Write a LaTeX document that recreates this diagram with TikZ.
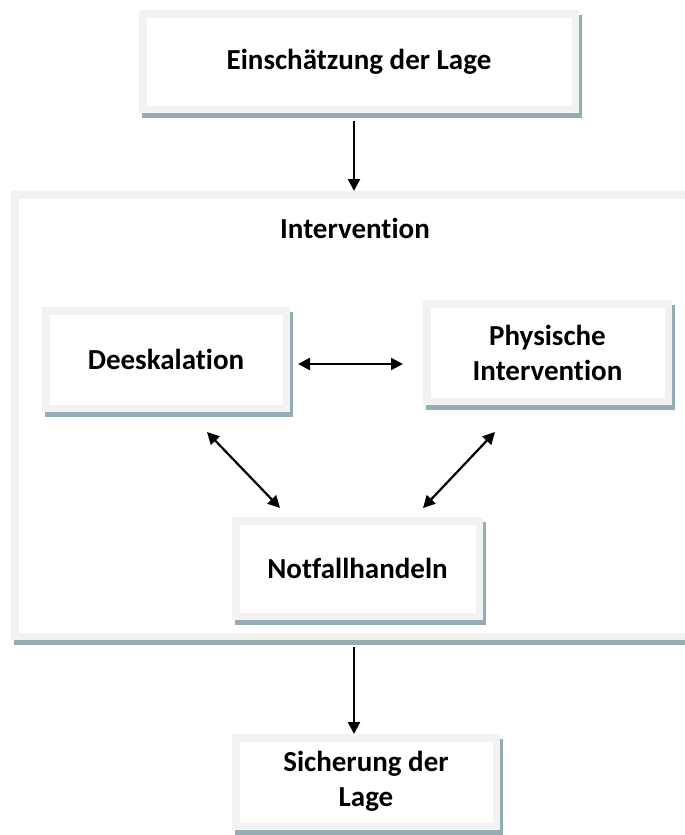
\documentclass[tikz,border=0pt]{standalone}
\usepackage{fontspec}
\setmainfont[Ligatures=NoCommon]{Carlito}
\usetikzlibrary{arrows.meta,shadows}
\definecolor{rimgray}{RGB}{242,242,242}
\definecolor{shadowc}{RGB}{148,173,178}
\tikzset{
  txt/.style={font=\bfseries\fontsize{29}{35}\selectfont, align=center},
  card/.style={txt, draw=rimgray, line width=7.5pt, fill=white, inner sep=0pt, outer sep=3.75pt,
    general shadow={shadow xshift=3pt, shadow yshift=-5pt, fill=shadowc, draw=shadowc, line width=7.5pt}},
  tip/.style={},
  arr/.style={line width=2.2pt, -{Triangle[length=12pt,width=12pt]}},
  darr/.style={line width=2.2pt, {Triangle[length=12pt,width=12pt]}-{Triangle[length=12pt,width=12pt]}},
}
\begin{document}
\begin{tikzpicture}[x=1pt,y=-1pt]
\useasboundingbox (0,0) rectangle (685,835);
\clip (0,0) rectangle (685,835);
\node[card, minimum width=432.5pt, minimum height=95.5pt] (top) at (359,61.5) {Einschätzung der Lage};
\node[card, minimum width=701.5pt, minimum height=441.5pt] (big) at (365.5,415.5) {};
\node[txt] (intlabel) at (355,228) {Intervention};
\node[card, minimum width=240.5pt, minimum height=97.5pt] (deesk) at (166,359.5) {Deeskalation};
\node[card, minimum width=241.5pt, minimum height=97.5pt] (phys) at (547.5,352.5) {Physische\\Intervention};
\node[card, minimum width=243.5pt, minimum height=95.5pt] (notf) at (357.5,568.5) {Notfallhandeln};
\node[card, minimum width=260.5pt, minimum height=88.5pt] (sich) at (366,782) {\raisebox{-4pt}{\begin{tabular}{@{}c@{}}Sicherung der\\Lage\end{tabular}}};
% connectors
\coordinate (a1) at ([xshift=-5pt,yshift=-8pt]top.south);
\draw[arr] (a1) -- (a1 |- big.north);
\coordinate (h1) at ([xshift=8pt,yshift=-4.5pt]deesk.east);
\coordinate (h2) at ([xshift=-20pt,yshift=-4.5pt]deesk.east -| phys.west);
\draw[darr] (h1) -- (h2);
\coordinate (d1) at ([xshift=41pt,yshift=-20pt]deesk.south);
\coordinate (d2) at ([xshift=-77.5pt,yshift=9pt]notf.north);
\draw[darr] (d1) -- (d2);
\coordinate (e1) at ([xshift=-52.5pt,yshift=-27pt]phys.south);
\coordinate (e2) at ([xshift=65.5pt,yshift=9pt]notf.north);
\draw[darr] (e1) -- (e2);
\coordinate (b1) at ([yshift=-7pt]big.south -| a1);
\draw[arr] (b1) -- (b1 |- sich.north);
\end{tikzpicture}
\end{document}
